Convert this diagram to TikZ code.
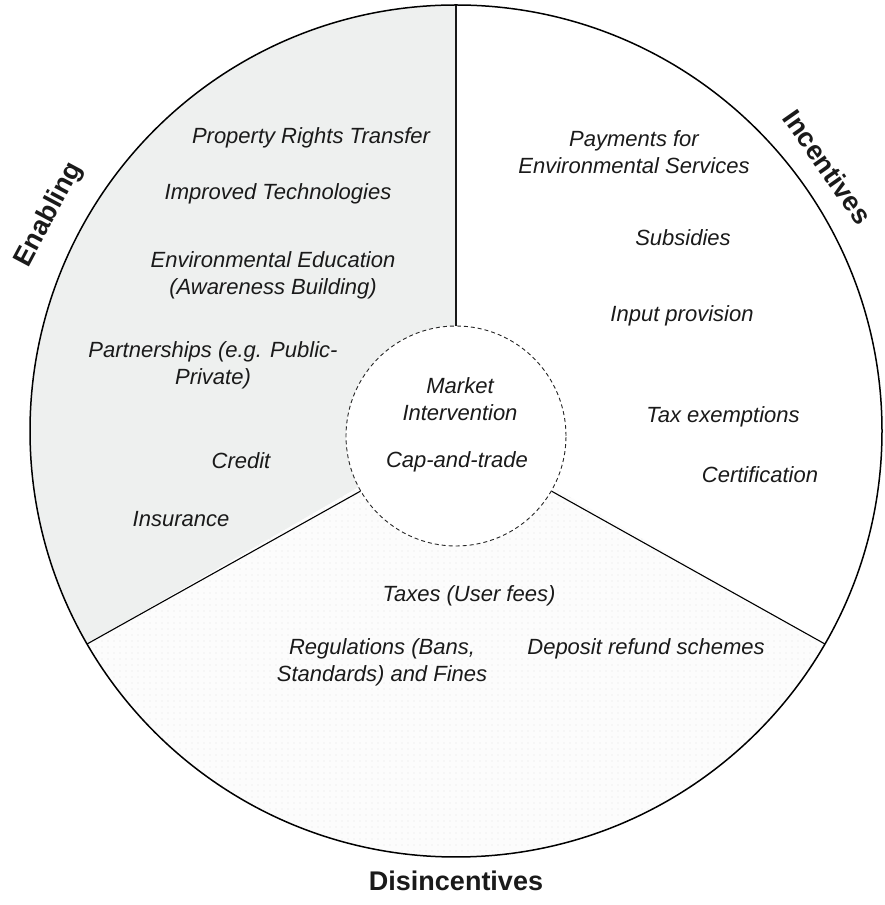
\documentclass[tikz,border=0pt]{standalone}
\usepackage{fontspec}
\setmainfont{Liberation Sans}
\usetikzlibrary{patterns.meta}
\definecolor{enablefill}{HTML}{EEF0EF}
\definecolor{detfill}{HTML}{FCFCFC}
\definecolor{inktext}{HTML}{1A1A1A}
\begin{document}
\begin{tikzpicture}[x=1pt,y=1pt,
  item/.style={font=\fontsize{22}{27}\selectfont\itshape, text=inktext, align=center, inner sep=0pt},
  head/.style={font=\fontsize{27}{30}\selectfont\bfseries, text=inktext, inner sep=0pt},
  rim/.style={line width=1.5pt, draw=black},
  divider/.style={line width=1.1pt, draw=black},
  spine/.style={line width=2.6pt, draw=black!90},
  core/.style={circle, draw=black!85, dash pattern=on 4pt off 3pt, line width=0.9pt,
               minimum size=220pt, inner sep=0pt, fill=white}]
\useasboundingbox (0,0) rectangle (885,905);
\def\R{426}
\coordinate (O) at (456,474);
\coordinate (rim90) at ([shift={(90:\R)}]O);
\coordinate (rim210) at ([shift={(210:\R)}]O);
\coordinate (rim330) at ([shift={(330:\R)}]O);

% sector backgrounds
\fill[enablefill] (O) -- (rim90) arc[start angle=90, end angle=210, radius=\R] -- cycle;
\fill[detfill] (O) -- (rim210) arc[start angle=210, end angle=330, radius=\R] -- cycle;
\fill[pattern={Dots[distance=6pt, radius=0.55pt]}, pattern color=gray!22]
  (O) -- (rim210) arc[start angle=210, end angle=330, radius=\R] -- cycle;

% central market-intervention circle
\node[core] (core) at (456,469) {};

% sector boundaries
\draw[spine] (core.north) -- (rim90);
\draw[divider] (core.210) -- (rim210);
\draw[divider] (core.330) -- (rim330);
\draw[rim] (O) circle[radius=\R];

% sector headings
\node[head, rotate=62] (enabling) at ([shift={(152:461)}]O) {Enabling};
\node[head, rotate=-55] (incentives) at ([shift={(35.4:456)}]O) {Incentives};
\node[head] (disincentives) at (456,24) {Disincentives};

% enabling instruments
\node[item] (prt) at (311,767) {Property Rights Transfer};
\node[item] (imp) at (278,711) {Improved Technologies};
\node[item] (edu) at (273,630) {Environmental Education\\(Awareness Building)};
\node[item] (ppp) at (213,540) {Partnerships (e.g. Public-\\Private)};
\node[item] (credit) at (241,444) {Credit};
\node[item] (insur) at (181,386) {Insurance};

% incentive instruments
\node[item] (pes) at (634,753) {Payments for\\Environmental Services};
\node[item] (subs) at (683,667) {Subsidies};
\node[item] (input) at (682,589) {Input provision};
\node[item] (taxex) at (723,488) {Tax exemptions};
\node[item] (cert) at (760,430) {Certification};

% market intervention
\node[item] (market) at (460,506) {Market\\Intervention};
\node[item] (cap) at (457,443) {Cap-and-trade};

% disincentive instruments
\node[item] (taxes) at (469,309) {Taxes (User fees)};
\node[item] (regs) at (382,243) {Regulations (Bans,\\Standards) and Fines};
\node[item] (deposit) at (646,256) {Deposit refund schemes};
\end{tikzpicture}
\end{document}
